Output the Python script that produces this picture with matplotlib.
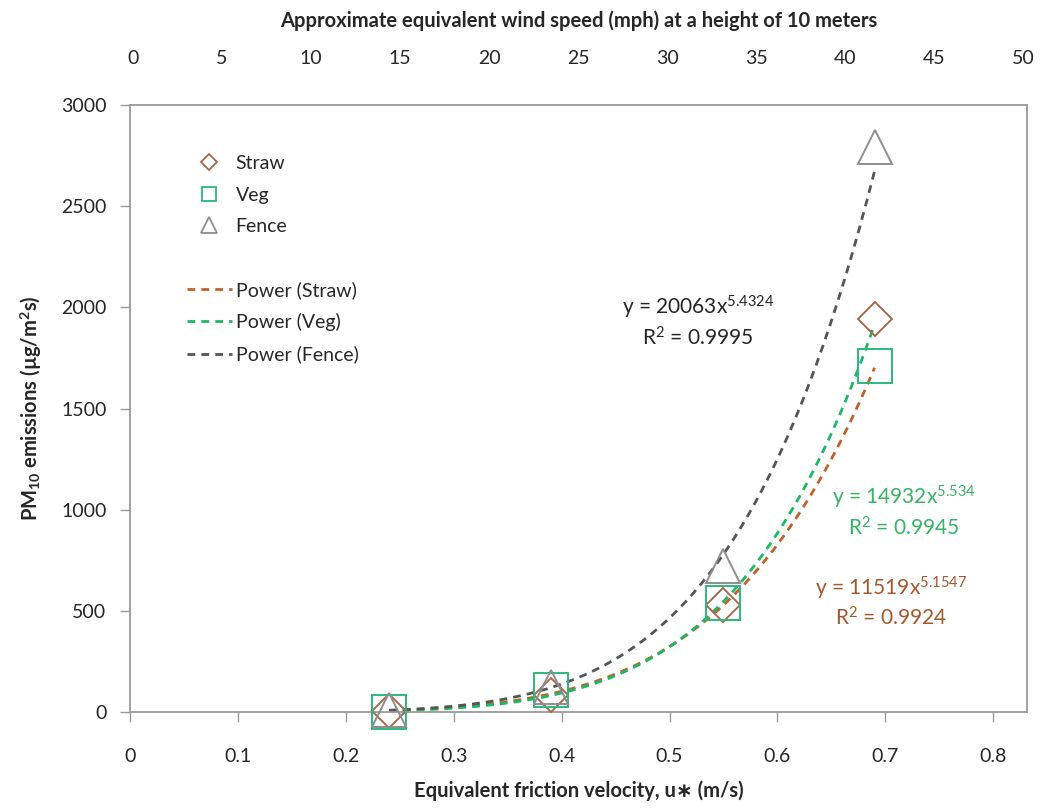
import numpy as np
import matplotlib
matplotlib.use("Agg")
import matplotlib.pyplot as plt
from matplotlib.lines import Line2D

plt.rcParams['font.family'] = ['Lato', 'DejaVu Sans']
plt.rcParams['mathtext.fontset'] = 'custom'
plt.rcParams['mathtext.rm'] = 'Lato'
plt.rcParams['mathtext.it'] = 'Lato:italic'
plt.rcParams['mathtext.bf'] = 'Lato:bold'

# friction velocity (m/s) and PM10 emissions (ug/m2s)
u_star = [0.24, 0.39, 0.55, 0.69]
straw = [5, 82, 530, 1940]
veg = [0, 108, 540, 1710]
fence = [12, 125, 720, 2790]

# power trendlines shown on the chart, y = a * x^b
names = ["Straw", "Veg", "Fence"]
coef_a = [11519, 14932, 20063]
coef_b = [5.1547, 5.534, 5.4324]
r2 = ["0.9924", "0.9945", "0.9995"]

mark_col = {"Straw": "#A8684E", "Veg": "#2DB87C", "Fence": "#8E8E8E"}
line_col = {"Straw": "#BE6228", "Veg": "#1DB864", "Fence": "#555555"}
txt_col = {"Straw": "#A5572C", "Veg": "#35B463", "Fence": "#262626"}
tick_col = "#262626"
spine_col = "#9A9A9A"

fig = plt.figure(figsize=(10.45, 8.09), dpi=100)
ax = fig.add_axes([130 / 1045, 1 - 712 / 809, 897 / 1045, 607 / 809])

# trendlines
xs = np.linspace(min(u_star), max(u_star), 200)
for n, a, b in zip(names, coef_a, coef_b):
    ax.plot(xs, a * xs ** b, color=line_col[n], lw=2.0, dashes=(2.8, 2.2), zorder=2)

# markers
ax.plot(u_star, straw, ls='none', marker='D', ms=17.5, mfc='none',
        mec=mark_col["Straw"], mew=1.4, zorder=3, clip_on=False)
ax.plot(u_star, veg, ls='none', marker='s', ms=24, mfc='none',
        mec=mark_col["Veg"], mew=1.4, zorder=3, clip_on=False)
ax.plot(u_star, fence, ls='none', marker='^', ms=25, mfc='none',
        mec=mark_col["Fence"], mew=1.4, zorder=3, clip_on=False)

ax.set_xlim(0, 0.8313)
ax.set_ylim(0, 3000)
ax.set_xticks(np.arange(0, 0.81, 0.1))
ax.set_xticklabels(["0", "0.1", "0.2", "0.3", "0.4", "0.5", "0.6", "0.7", "0.8"])
ax.set_yticks(np.arange(0, 3001, 500))
ax.tick_params(axis='x', direction='out', length=7, width=1, color=spine_col,
               pad=19, labelsize=14, labelcolor=tick_col)
ax.tick_params(axis='y', direction='out', length=7, width=1, color=spine_col,
               pad=10, labelsize=14, labelcolor=tick_col)
for s in ax.spines.values():
    s.set_color(spine_col)
    s.set_linewidth(1.3)

ax.set_xlabel("Equivalent friction velocity, u∗ (m/s)", fontsize=14.5,
              fontweight='bold', color=tick_col, labelpad=11)
ax.set_ylabel(r"PM$_{\mathbf{10}}$ emissions (µg/m$^{\mathbf{2}}$s)", fontsize=14.5,
              fontweight='bold', color=tick_col, labelpad=12)

# top axis: approximate wind speed
top = ax.twiny()
top.set_xlim(-0.17, 50.22)
top.set_xticks(np.arange(0, 51, 5))
top.tick_params(axis='x', length=0, pad=27, labelsize=14, labelcolor=tick_col)
for s in top.spines.values():
    s.set_visible(False)
top.set_xlabel("Approximate equivalent wind speed (mph) at a height of 10 meters",
               fontsize=14.5, fontweight='bold', color=tick_col, labelpad=17)

# equation labels
eq_pos = {"Fence": (0.526, 2002, 1848), "Veg": (0.717, 1063, 910), "Straw": (0.705, 613, 465)}
for n, a, b, r in zip(names, coef_a, coef_b, r2):
    x0, y1, y2 = eq_pos[n]
    ax.text(x0, y1, "y = %d" % a + "x$^{%s}$" % ("%g" % b), color=txt_col[n],
            fontsize=15, ha='center', va='center')
    ax.text(x0, y2, "R$^{2}$ = " + r, color=txt_col[n], fontsize=15,
            ha='center', va='center')

# legend
handles = [
    Line2D([], [], ls='none', marker='D', ms=8, mfc='none', mec=mark_col["Straw"], mew=1.3),
    Line2D([], [], ls='none', marker='s', ms=10.5, mfc='none', mec=mark_col["Veg"], mew=1.3),
    Line2D([], [], ls='none', marker='^', ms=11, mfc='none', mec=mark_col["Fence"], mew=1.3),
    Line2D([], [], ls='none'),
    Line2D([], [], color=line_col["Straw"], lw=2, dashes=(2.8, 2.2)),
    Line2D([], [], color=line_col["Veg"], lw=2, dashes=(2.8, 2.2)),
    Line2D([], [], color=line_col["Fence"], lw=2, dashes=(2.8, 2.2)),
]
labels = ["Straw", "Veg", "Fence", "", "Power (Straw)", "Power (Veg)", "Power (Fence)"]
leg = ax.legend(handles, labels, loc='upper left', bbox_to_anchor=(0.055, 0.93),
                frameon=False, fontsize=14, handlelength=2.3, handletextpad=0.2,
                labelspacing=0.74, borderaxespad=0)
for t in leg.get_texts():
    t.set_color(tick_col)

fig.savefig("out.png", dpi=100)
